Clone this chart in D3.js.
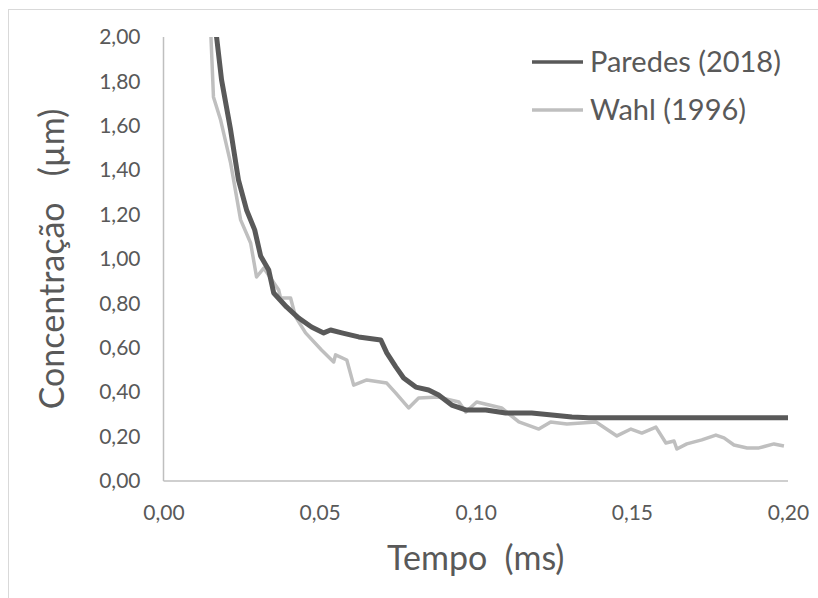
<!DOCTYPE html>
<html>
<head>
<meta charset="utf-8">
<script src="https://cdn.jsdelivr.net/npm/d3@7"></script>
<style>
  body { margin: 0; background: #fff; }
  svg { font-family: Lato, "Open Sans", sans-serif; }
  text { white-space: pre; }
</style>
</head>
<body>
<svg id="chart"></svg>
<script>
var width = 818;
var height = 598;

// series (tempo in ms, concentração in µm)
var paredesX = [0.0160, 0.0170, 0.0186, 0.0215, 0.0240, 0.0266, 0.0292, 0.0311, 0.0337, 0.0353, 0.0394, 0.0433,
                0.0474, 0.0513, 0.0535, 0.0571, 0.0625, 0.0696, 0.0715, 0.0744, 0.0769, 0.0808, 0.0849, 0.0881,
                0.0923, 0.0968, 0.1032, 0.1096, 0.1138, 0.1179, 0.1244, 0.1308, 0.1362, 0.2000];
var paredesY = [2.05, 2.00, 1.806, 1.581, 1.356, 1.221, 1.131, 1.014, 0.950, 0.847, 0.784, 0.734,
                0.694, 0.667, 0.680, 0.667, 0.649, 0.635, 0.577, 0.514, 0.464, 0.423, 0.410, 0.387,
                0.342, 0.320, 0.320, 0.306, 0.306, 0.306, 0.297, 0.288, 0.285, 0.285];

var wahlX = [0.0145, 0.0152, 0.0160, 0.0183, 0.0215, 0.0247, 0.0279, 0.0298, 0.0321, 0.0369, 0.0375, 0.0407,
             0.0423, 0.0455, 0.0506, 0.0545, 0.0551, 0.0587, 0.0609, 0.0651, 0.0715, 0.0744, 0.0785, 0.0817,
             0.0881, 0.0946, 0.0968, 0.1003, 0.1083, 0.1138, 0.1202, 0.1240, 0.1292, 0.1385, 0.1452, 0.1497,
             0.1532, 0.1577, 0.1609, 0.1635, 0.1644, 0.1676, 0.1724, 0.1769, 0.1795, 0.1827, 0.1869, 0.1907,
             0.1955, 0.1987];
var wahlY = [2.05, 2.00, 1.730, 1.626, 1.432, 1.176, 1.072, 0.919, 0.959, 0.860, 0.824, 0.824,
             0.739, 0.667, 0.590, 0.536, 0.568, 0.545, 0.432, 0.455, 0.441, 0.396, 0.329, 0.374,
             0.378, 0.356, 0.311, 0.356, 0.329, 0.266, 0.234, 0.266, 0.257, 0.266, 0.203, 0.234,
             0.216, 0.243, 0.171, 0.180, 0.144, 0.167, 0.185, 0.207, 0.194, 0.162, 0.149, 0.149,
             0.167, 0.158];

var xTicks = [0, 0.05, 0.10, 0.15, 0.20];
var yTicks = [0, 0.2, 0.4, 0.6, 0.8, 1.0, 1.2, 1.4, 1.6, 1.8, 2.0];
var seriesNames = ["Paredes (2018)", "Wahl (1996)"];
var seriesColors = ["#595959", "#bfbfbf"];

// plot box (don't call these top/left, window.top is taken)
var plotLeft = 163.5, plotRight = 788, plotTop = 37, plotBottom = 481;

var ptBR = d3.formatLocale({decimal: ",", thousands: ".", grouping: [3], currency: ["", ""]});
var fmt = ptBR.format(".2f");

var xScale = d3.scaleLinear().domain([0, 0.20]).range([plotLeft, plotRight]);
var yScale = d3.scaleLinear().domain([0, 2.0]).range([plotBottom, plotTop]);

var svg = d3.select("#chart")
    .attr("width", width)
    .attr("height", height);

// outer chart border (only left and top fall inside the frame)
svg.append("rect")
    .attr("x", 8.5).attr("y", 9.5)
    .attr("width", 830).attr("height", 620)
    .attr("fill", "none")
    .attr("stroke", "#d9d9d9");

svg.append("clipPath").attr("id", "plot")
  .append("rect")
    .attr("x", plotLeft).attr("y", plotTop)
    .attr("width", plotRight - plotLeft).attr("height", plotBottom - plotTop);

// axes
var xAxis = d3.axisBottom(xScale).tickValues(xTicks).tickFormat(fmt).tickSize(0).tickPadding(24);
var yAxis = d3.axisLeft(yScale).tickValues(yTicks).tickFormat(fmt).tickSize(0).tickPadding(23);

var gx = svg.append("g").attr("transform", `translate(0, ${plotBottom})`).call(xAxis);
var gy = svg.append("g").attr("transform", `translate(${plotLeft}, 0)`).call(yAxis);
[gx, gy].forEach(g => {
    g.select(".domain").remove();
    g.selectAll("text").attr("fill", "#595959").attr("font-size", 21).attr("font-family", "Lato");
});

svg.append("line")
    .attr("x1", plotLeft).attr("x2", plotLeft).attr("y1", plotTop).attr("y2", plotBottom)
    .attr("stroke", "#bfbfbf").attr("stroke-width", 1.5);
svg.append("line")
    .attr("x1", plotLeft).attr("x2", plotRight).attr("y1", plotBottom).attr("y2", plotBottom)
    .attr("stroke", "#bfbfbf").attr("stroke-width", 1.5);

// lines
var line = d3.line().x(d => xScale(d[0])).y(d => yScale(d[1]));
var paredes = paredesX.map((x, i) => [x, paredesY[i]]);
var wahl = wahlX.map((x, i) => [x, wahlY[i]]);

var plot = svg.append("g").attr("clip-path", "url(#plot)");
plot.append("path")
    .datum(wahl)
    .attr("d", line)
    .attr("fill", "none")
    .attr("stroke", seriesColors[1])
    .attr("stroke-width", 3.5)
    .attr("stroke-linejoin", "round");
plot.append("path")
    .datum(paredes)
    .attr("d", line)
    .attr("fill", "none")
    .attr("stroke", seriesColors[0])
    .attr("stroke-width", 5)
    .attr("stroke-linejoin", "round");

// legend
var legend = svg.append("g").selectAll("g")
    .data(seriesNames)
  .enter().append("g")
    .attr("transform", (d, i) => `translate(532, ${62 + i * 48})`);
legend.append("line")
    .attr("x1", 0).attr("x2", 51)
    .attr("stroke", (d, i) => seriesColors[i])
    .attr("stroke-width", (d, i) => i == 0 ? 3.5 : 3.5);
legend.append("text")
    .attr("x", 58)
    .attr("dy", "0.36em")
    .attr("font-size", 29)
    .attr("fill", "#595959")
    .text(d => d);

// axis titles
svg.append("text")
    .attr("x", (plotLeft + plotRight) / 2)
    .attr("y", 570)
    .attr("text-anchor", "middle")
    .attr("font-size", 34)
    .attr("fill", "#595959")
    .text("Tempo  (ms)");

svg.append("text")
    .attr("transform", "rotate(-90)")
    .attr("x", -(plotTop + plotBottom) / 2)
    .attr("y", 64)
    .attr("text-anchor", "middle")
    .attr("font-size", 34)
    .attr("fill", "#595959")
    .text("Concentração   (µm)");
</script>
</body>
</html>
